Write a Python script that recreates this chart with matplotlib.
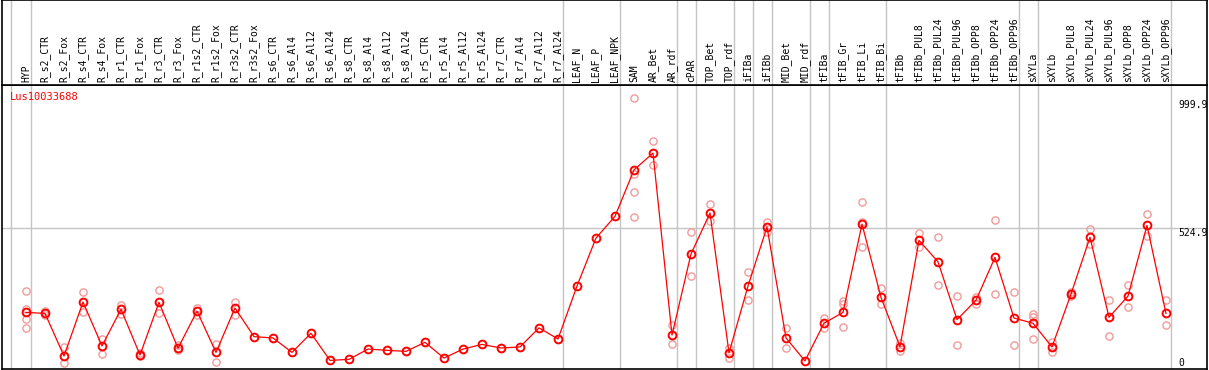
import matplotlib
matplotlib.use("Agg")
import matplotlib.pyplot as plt

samples = ["HYP", "R_s2_CTR", "R_s2_Fox", "R_s4_CTR", "R_s4_Fox", "R_r1_CTR", "R_r1_Fox",
           "R_r3_CTR", "R_r3_Fox", "R_r1s2_CTR", "R_r1s2_Fox", "R_r3s2_CTR", "R_r3s2_Fox",
           "R_s6_CTR", "R_s6_Al4", "R_s6_Al12", "R_s6_Al24", "R_s8_CTR", "R_s8_Al4",
           "R_s8_Al12", "R_s8_Al24", "R_r5_CTR", "R_r5_Al4", "R_r5_Al12", "R_r5_Al24",
           "R_r7_CTR", "R_r7_Al4", "R_r7_Al12", "R_r7_Al24", "LEAF_N", "LEAF_P", "LEAF_NPK",
           "SAM", "AR_Bet", "AR_rdf", "cPAR", "TOP_Bet", "TOP_rdf", "iFIBa", "iFIBb",
           "MID_Bet", "MID_rdf", "tFIBa", "tFIB_Gr", "tFIB_Li", "tFIB_Bi", "tFIBb",
           "tFIBb_PUL8", "tFIBb_PUL24", "tFIBb_PUL96", "tFIBb_OPP8", "tFIBb_OPP24",
           "tFIBb_OPP96", "sXYLa", "sXYLb", "sXYLb_PUL8", "sXYLb_PUL24", "sXYLb_PUL96",
           "sXYLb_OPP8", "sXYLb_OPP24", "sXYLb_OPP96"]

means = [198, 194, 29, 238, 68, 210, 33, 237, 59, 203, 43, 215, 104,
         99, 43, 117, 12, 16, 56, 51, 47, 82, 21, 56, 74, 60, 64, 138, 95,
         300, 486, 570, 750, 815, 110, 424, 583, 41, 300, 529, 99, 10,
         156, 198, 540, 256, 65, 477, 394, 170, 245, 411, 176,
         156, 64, 269, 489, 179, 261, 535, 194]

replicates = [[281, 211, 172, 138], [203, 188], [63, 1], [276, 198], [94, 38], [228, 192],
              [40, 29], [284, 194], [72, 53], [214, 188], [74, 7], [238, 188], [], [], [],
              [], [], [], [], [], [], [], [], [], [], [], [], [], [], [], [], [],
              [1027, 733, 663, 568], [862, 768], [149, 74], [508, 338], [618, 552],
              [59, 22], [354, 245], [549, 511], [138, 60], [], [177, 136],
              [243, 231, 140], [624, 549, 450], [291, 229], [50, 79], [504, 452],
              [489, 304], [260, 71], [259, 229], [555, 269], [276, 71],
              [191, 179, 95], [83, 43], [276, 261], [520, 462], [247, 108],
              [303, 218], [578, 493], [246, 149]]

# separators sit just right of these columns
group_ends = [-1.05, 0, 28, 31, 34, 35, 37, 38, 39, 41, 42, 45, 52, 53, 60]
ref_levels = [999.9, 524.9, 0]
title = "Lus10033688"

W, H = 1209, 370
fig = plt.figure(figsize=(W / 100, H / 100), dpi=100)
mono = "DejaVu Sans Mono"
grid_c = "#c4c4c4"

x0, x1 = 2, 1207
ax = fig.add_axes([x0 / W, 1 - 369 / H, (x1 - x0) / W, (369 - 85) / H])
hdr = fig.add_axes([x0 / W, 1 - 85 / H, (x1 - x0) / W, 85 / H])

xmin = (x0 - 26) / 19
xmax = (x1 - 26) / 19
scale = 524.9 / 135.5
for a in (ax, hdr):
    a.set_xlim(xmin, xmax)
    a.set_xticks([])
    a.set_yticks([])
    for s in a.spines.values():
        s.set_color("black")
        s.set_linewidth(1.2)
ax.set_ylim((363.5 - 369) * scale, (363.5 - 85) * scale)
hdr.set_ylim(0, 1)

for g in group_ends:
    ax.axvline(g + 0.25, color=grid_c, lw=1.0, zorder=0)
    hdr.axvline(g + 0.25, color=grid_c, lw=1.0, zorder=0)
ax.axhline(ref_levels[1], color=grid_c, lw=1.0, zorder=0)

for i, name in enumerate(samples):
    hdr.text(i, 0.03, name, rotation=90, ha="center", va="bottom",
             family=mono, fontsize=7, color="black")

xs = list(range(len(samples)))
for i, reps in enumerate(replicates):
    if reps:
        ax.plot([i] * len(reps), reps, ls="none", marker="o", ms=5.2, mfc="none",
                mec="#f19a9a", mew=1.0, zorder=2)
ax.plot(xs, means, color="red", lw=0.9, zorder=3)
ax.plot(xs, means, ls="none", marker="o", ms=5.6, mfc="none", mec="red",
        mew=1.4, zorder=4)

ax.text(10 / (x1 - x0) - 0.002, 1 - (97.5 - 85) / 284, title, transform=ax.transAxes,
        family=mono, fontsize=7.5, color="red", ha="left", va="center")

tx = (1178 - x0) / (x1 - x0)
ax.text(tx, ref_levels[0], "999.9", transform=ax.get_yaxis_transform(),
        family=mono, fontsize=7, ha="left", va="center")
ax.text(tx, ref_levels[1], "524.9", transform=ax.get_yaxis_transform(),
        family=mono, fontsize=7, ha="left", va="top")
ax.text(tx, ref_levels[2], "0", transform=ax.get_yaxis_transform(),
        family=mono, fontsize=7, ha="left", va="center")

fig.savefig("out.png", dpi=100, facecolor="white")
